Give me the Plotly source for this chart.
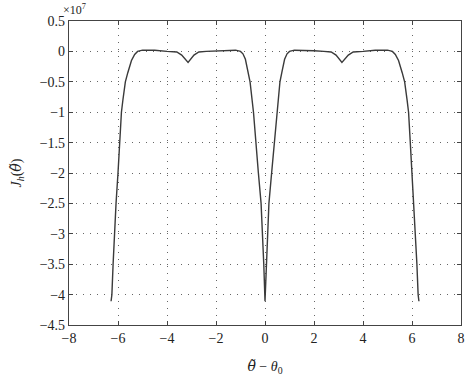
import plotly.graph_objects as go

# curve data (theta_tilde - theta0, J_h in units of 1e7)
x_vals = [-6.283, -6.25, -6.2, -6.15, -6.08, -6.0, -5.93, -5.86, -5.8, -5.7, -5.6, -5.45, -5.32, -5.2,
          -5.0, -4.5, -4.0, -3.6, -3.4, -3.14, -2.9, -2.7, -2.4, -2.0, -1.6, -1.2, -1.0, -0.9, -0.8,
          -0.7, -0.61, -0.47, -0.38, -0.27, -0.16, -0.1, -0.05, 0.0,
          0.05, 0.1, 0.16, 0.27, 0.38, 0.47, 0.61, 0.7, 0.8, 0.9, 1.0, 1.2, 1.6, 2.0, 2.4, 2.7, 2.9,
          3.14, 3.4, 3.6, 4.0, 4.5, 5.0, 5.2, 5.32, 5.45, 5.6, 5.7, 5.8, 5.86, 5.93, 6.0, 6.08, 6.15,
          6.2, 6.25, 6.283]
y_vals = [-4.11, -4.0, -3.5, -3.0, -2.5, -2.0, -1.5, -1.0, -0.8, -0.5, -0.35, -0.15, -0.05, 0.0,
          0.02, 0.02, 0.0, -0.01, -0.06, -0.18, -0.06, -0.01, 0.0, 0.01, 0.02, 0.02, 0.0, -0.04, -0.13,
          -0.32, -0.5, -1.0, -1.5, -2.0, -2.5, -3.0, -3.5, -4.11,
          -3.5, -3.0, -2.5, -2.0, -1.5, -1.0, -0.5, -0.32, -0.13, -0.04, 0.0, 0.02, 0.02, 0.01, 0.0,
          -0.01, -0.06, -0.18, -0.06, -0.01, 0.0, 0.02, 0.02, 0.0, -0.05, -0.15, -0.35, -0.5, -0.8,
          -1.0, -1.5, -2.0, -2.5, -3.0, -3.5, -4.0, -4.11]

x_ticks = [-8, -6, -4, -2, 0, 2, 4, 6, 8]
y_ticks = [0.5, 0, -0.5, -1, -1.5, -2, -2.5, -3, -3.5, -4, -4.5]


def fmt(v):
    s = ("%g" % v)
    return s.replace("-", "\u2212")


font = dict(family="'Liberation Serif', serif", size=14, color="#222")
theta_t = "<span style=\"font-family:'DejaVu Serif'\"><i>\u03b8\u0303</i></span>"

fig = go.Figure()
fig.add_trace(go.Scatter(x=x_vals, y=y_vals, mode="lines",
                         line=dict(color="#3a3a3a", width=1.4), showlegend=False))

axis_common = dict(showline=True, linecolor="#444", linewidth=1.2, mirror="ticks",
                   ticks="inside", ticklen=4, tickcolor="#444",
                   showgrid=True, gridcolor="#666", gridwidth=1, griddash="1px,6px",
                   zeroline=False, tickfont=font)

fig.update_xaxes(range=[-8, 8], tickvals=x_ticks, ticktext=[fmt(v) for v in x_ticks],
                 title=dict(text=theta_t + " \u2212 <i>\u03b8</i><sub>0</sub>", font=font, standoff=16),
                 **axis_common)
fig.update_yaxes(range=[-4.5, 0.5], tickvals=y_ticks, ticktext=[fmt(v) for v in y_ticks],
                 title=dict(text="<i>J<sub>h</sub></i>(" + theta_t + ")", font=font, standoff=14),
                 **axis_common)

plot_h = 380 - 21 - 46
fig.add_annotation(text="\u00d710<sup>7</sup>", xref="paper", yref="paper", x=0.0, y=1 + 21 / plot_h,
                   xanchor="left", xshift=-7, yanchor="top", borderpad=0, showarrow=False,
                   font=dict(family="'Liberation Serif', serif", size=12, color="#222"))

fig.update_layout(width=473, height=380, margin=dict(l=69, r=8, t=21, b=46),
                  plot_bgcolor="white", paper_bgcolor="white", font=font)

fig.write_html("out.html")
